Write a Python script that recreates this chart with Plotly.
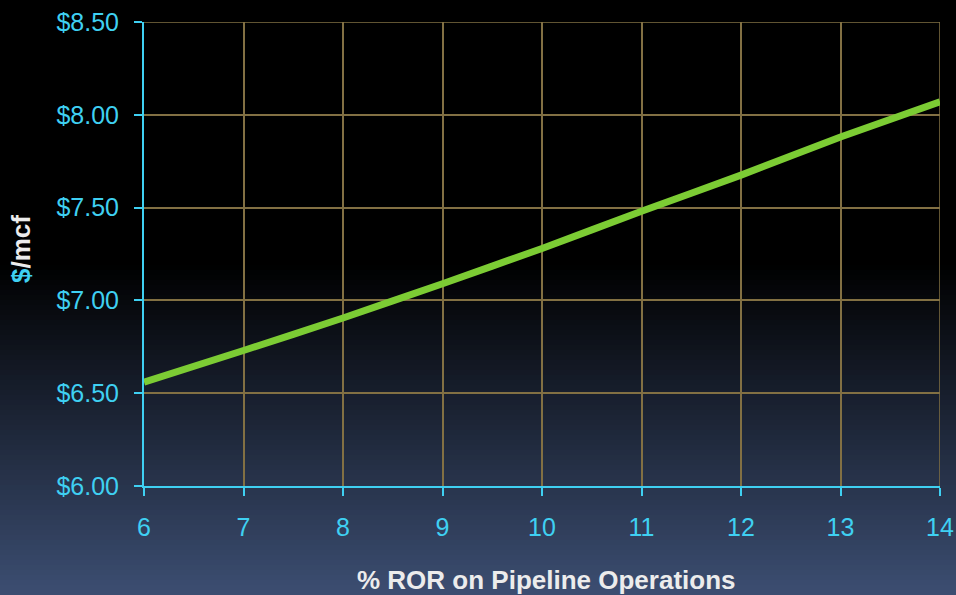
import plotly.graph_objects as go

# Cost of service vs. allowed rate of return
ror_pct = [6, 7, 8, 9, 10, 11, 12, 13, 14]
cost_per_mcf = [6.56, 6.73, 6.905, 7.09, 7.28, 7.48, 7.675, 7.88, 8.07]

y_ticks = [6.0, 6.5, 7.0, 7.5, 8.0, 8.5]
y_tick_labels = ["$6.00", "$6.50", "$7.00", "$7.50", "$8.00", "$8.50"]
x_ticks = list(range(6, 15))

W, H = 956, 595
CYAN = "#3fd0f2"
GRID = "#827043"
GREEN = "#7ccc34"
TICK_SIZE = 25
TITLE_SIZE = 26

fig = go.Figure()
fig.add_trace(go.Scatter(
    x=ror_pct, y=cost_per_mcf, mode="lines",
    line=dict(color=GREEN, width=7, shape="spline", smoothing=0.3),
    hoverinfo="skip", showlegend=False,
))

# Plot-area geometry in pixels
plot_top, plot_bot = 22, 486
plot_left, plot_right = 144, 940
ph = plot_bot - plot_top
pw = plot_right - plot_left


def to_paper_y(py):
    return (plot_bot - py) / ph


def to_paper_x(px):
    return (px - plot_left) / pw


# Background: black top fading to slate blue at the bottom
top_c = (0, 0, 0)
bot_c = (60, 78, 114)
start = 265
steps = 66
band = (H - start) / steps
shapes = [dict(type="rect", xref="paper", yref="paper",
               x0=-0.3, x1=1.1, y0=to_paper_y(start), y1=to_paper_y(-5),
               line=dict(width=0), fillcolor="black", layer="below")]
for i in range(steps):
    t = (i + 0.5) / steps
    c = tuple(int(round(a + (b - a) * t)) for a, b in zip(top_c, bot_c))
    y0 = start + i * band
    y1 = y0 + band + 0.8
    shapes.append(dict(type="rect", xref="paper", yref="paper",
                       x0=-0.3, x1=1.1, y0=to_paper_y(y1), y1=to_paper_y(y0),
                       line=dict(width=0), fillcolor="rgb(%d,%d,%d)" % c,
                       layer="below"))

# Grid border lines at x=14 and at $8.50
shapes.append(dict(type="line", xref="x", yref="y", x0=14, x1=14, y0=6, y1=8.5,
                   line=dict(color=GRID, width=1.5), layer="below"))
shapes.append(dict(type="line", xref="x", yref="y", x0=6, x1=14, y0=8.5, y1=8.5,
                   line=dict(color=GRID, width=1.5), layer="below"))

fig.update_layout(
    width=W, height=H,
    margin=dict(l=plot_left, r=W - plot_right, t=plot_top, b=H - plot_bot),
    paper_bgcolor="black", plot_bgcolor="rgba(0,0,0,0)",
    font=dict(family="Liberation Sans, Arial, sans-serif", color=CYAN, size=TICK_SIZE),
    shapes=shapes,
    xaxis=dict(range=[6, 14], tickvals=x_ticks, ticktext=[str(v) for v in x_ticks],
               showline=True, linecolor=CYAN, linewidth=2,
               ticks="outside", ticklen=8, tickwidth=2, tickcolor=CYAN,
               showgrid=True, gridcolor=GRID, gridwidth=1.5,
               zeroline=False, ticklabelstandoff=10, automargin=False,
               tickfont=dict(size=TICK_SIZE, color=CYAN)),
    yaxis=dict(range=[6, 8.5], tickvals=y_ticks, ticktext=y_tick_labels,
               showline=True, linecolor=CYAN, linewidth=2,
               ticks="outside", ticklen=8, tickwidth=2, tickcolor=CYAN,
               showgrid=True, gridcolor=GRID, gridwidth=1.5,
               zeroline=False, ticklabelstandoff=10, automargin=False,
               tickfont=dict(size=TICK_SIZE, color=CYAN)),
    annotations=[
        dict(text="<b>% ROR on Pipeline Operations</b>", xref="paper", yref="paper",
             x=to_paper_x(546), y=to_paper_y(580), showarrow=False,
             xanchor="center", yanchor="middle",
             font=dict(size=TITLE_SIZE, color="#ececec")),
        dict(text="<b><span style='color:%s'>$</span>/mcf</b>" % CYAN,
             xref="paper", yref="paper",
             x=to_paper_x(21), y=to_paper_y(249), textangle=-90,
             showarrow=False, xanchor="center", yanchor="middle",
             font=dict(size=TITLE_SIZE, color="#ececec")),
    ],
)

fig.write_html("out.html")
